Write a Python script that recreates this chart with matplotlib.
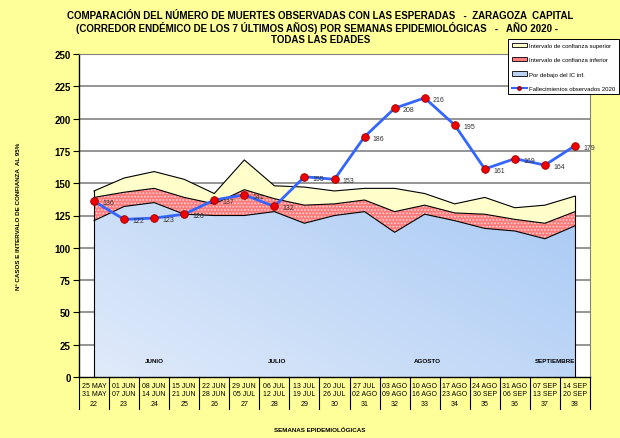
import matplotlib
matplotlib.use("Agg")
import matplotlib.pyplot as plt
import numpy as np
from matplotlib.patches import Patch
from matplotlib.lines import Line2D

plt.rcParams['font.family'] = ['Liberation Sans', 'DejaVu Sans']
plt.rcParams['hatch.linewidth'] = 0.8

# semanas epidemiologicas y fechas
weeks = [22, 23, 24, 25, 26, 27, 28, 29, 30, 31, 32, 33, 34, 35, 36, 37, 38]
dates = ["25 MAY\n31 MAY", "01 JUN\n07 JUN", "08 JUN\n14 JUN", "15 JUN\n21 JUN",
         "22 JUN\n28 JUN", "29 JUN\n05 JUL", "06 JUL\n12 JUL", "13 JUL\n19 JUL",
         "20 JUL\n26 JUL", "27 JUL\n02 AGO", "03 AGO\n09 AGO", "10 AGO\n16 AGO",
         "17 AGO\n23 AGO", "24 AGO\n30 SEP", "31 AGO\n06 SEP", "07 SEP\n13 SEP",
         "14 SEP\n20 SEP"]

# corredor endemico
ic_sup = [144, 154, 159, 153, 142, 168, 148, 147, 144, 146, 146, 142, 134, 139, 131, 133, 140]
ic_inf = [139, 143, 146, 139, 134, 145, 138, 133, 134, 137, 128, 133, 127, 126, 122, 119, 128]
debajo = [121, 132, 135, 126, 125, 125, 128, 119, 125, 128, 112, 126, 121, 115, 113, 107, 117]
observados = [136, 122, 123, 126, 137, 141, 132, 155, 153, 186, 208, 216, 195, 161, 169, 164, 179]

months = ["JUNIO", "JULIO", "AGOSTO", "SEPTIEMBRE"]
month_pos = [2.0, 6.1, 11.1, 15.35]

bg = '#ffff99'
red_face = '#ff7a7a'
red_hatch = '#ffd8d8'
fig = plt.figure(figsize=(6.2, 4.39), dpi=100, facecolor=bg)
ax = fig.add_axes([79/620, 61/439, 511/620, 323/439])
ax.set_facecolor('white')

x = np.arange(len(weeks))

# gradiente azul recortado al area
blue = ax.fill_between(x, 0, debajo, facecolor='none', edgecolor='none', zorder=2)
gx, gy = np.meshgrid(np.linspace(0, 1, 200), np.linspace(0, 1, 200))
g = 0.6 * gx + 0.4 * gy
c0 = np.array([0.88, 0.92, 0.98])
c1 = np.array([0.66, 0.79, 0.96])
img = c0[None, None, :] * (1 - g[..., None]) + c1[None, None, :] * g[..., None]
im = ax.imshow(img, extent=[0, 16, 0, 140], origin='lower', aspect='auto', zorder=2)
im.set_clip_path(blue.get_paths()[0], transform=ax.transData)

ax.fill_between(x, debajo, ic_inf, facecolor=red_face, edgecolor=red_hatch,
                hatch='.....', linewidth=0, zorder=3)
ax.fill_between(x, ic_inf, ic_sup, facecolor='#ffffcc', linewidth=0, zorder=3)
for s in (ic_sup, ic_inf, debajo):
    ax.plot(x, s, color='black', lw=0.8, zorder=4)
ax.plot([0, 0], [0, ic_sup[0]], color='black', lw=0.8, zorder=4)
ax.plot([16, 16], [0, ic_sup[-1]], color='black', lw=0.8, zorder=4)

ax.plot(x, observados, color='#3366ff', lw=2, marker='o', markersize=5.5,
        markerfacecolor='#ee0000', markeredgecolor='#990000', markeredgewidth=0.6, zorder=6)
for xi, v in zip(x, observados):
    ax.annotate(str(v), (xi, v), xytext=(6, -1), textcoords='offset points',
                fontsize=5, color='#333333', va='center', ha='left', zorder=7)

ax.set_xlim(-0.5, 16.5)
ax.set_ylim(0, 250)
ax.set_yticks(range(0, 251, 25))
ax.set_yticklabels([str(t) for t in range(0, 251, 25)], fontsize=7, fontweight='bold')
ax.tick_params(axis='y', length=4, width=0.8, direction='out', pad=2)
ax.set_xticks([])
for t in range(25, 251, 25):
    ax.axhline(t, color='#8c8c8c', lw=1.3, zorder=1)
for sp in ('top', 'right'):
    ax.spines[sp].set_color('#808080')
ax.spines['left'].set_linewidth(1.0)
ax.spines['bottom'].set_linewidth(1.0)

for m, p in zip(months, month_pos):
    ax.text(p, 13, m, fontsize=4.5, fontweight='bold', ha='center', va='center', zorder=8)

# etiquetas del eje x
tr = ax.get_xaxis_transform()
for i in range(len(weeks) + 1):
    ax.plot([i - 0.5, i - 0.5], [0, -0.1], transform=tr, color='black', lw=0.8, clip_on=False)
for i, (w, d) in enumerate(zip(weeks, dates)):
    ax.text(i, -0.017, d, transform=tr, fontsize=5, ha='center', va='top', linespacing=1.1)
    ax.text(i, -0.082, str(w), transform=tr, fontsize=5, ha='center', va='center')

ax.set_ylabel("Nº CASOS E INTERVALO DE CONFIANZA  AL 95%", fontsize=4.5, fontweight='bold', labelpad=24)
fig.text(0.516, 0.014, "SEMANAS EPIDEMIOLÓGICAS", fontsize=4.5, fontweight='bold', ha='center', va='bottom')

fig.text(0.517, 0.964, "COMPARACIÓN DEL NÚMERO DE MUERTES OBSERVADAS CON LAS ESPERADAS   -  ZARAGOZA  CAPITAL",
         fontsize=7, fontweight='bold', ha='center', va='center')
fig.text(0.512, 0.936, "(CORREDOR ENDÉMICO DE LOS 7 ÚLTIMOS AÑOS) POR SEMANAS EPIDEMIOLÓGICAS   -   AÑO 2020 -",
         fontsize=7, fontweight='bold', ha='center', va='center')
fig.text(0.517, 0.909, "TODAS LAS EDADES", fontsize=7, fontweight='bold', ha='center', va='center')

handles = [Patch(facecolor='#ffffcc', edgecolor='black', lw=0.6),
           Patch(facecolor=red_face, edgecolor='black', lw=0.6),
           Patch(facecolor='#bcd2f2', edgecolor='black', lw=0.6),
           Line2D([0], [0], color='#3366ff', lw=1.5, marker='o', markersize=2.5,
                  markerfacecolor='#ee0000', markeredgecolor='#990000')]
labels = ["Intervalo de confianza superior", "Intervalo de confianza inferior",
          "Por debajo del IC inf.", "Fallecimientos observados 2020"]
leg = fig.legend(handles, labels, loc='upper left', bbox_to_anchor=(505/620, 1 - 37/439),
                 fontsize=4.3, frameon=True, fancybox=False, framealpha=1,
                 edgecolor='black', handlelength=2.5, handleheight=0.8,
                 labelspacing=1.5, borderpad=0.6, handletextpad=0.4)
leg.get_frame().set_linewidth(0.7)

fig.savefig("out.png", dpi=100, facecolor=bg)
